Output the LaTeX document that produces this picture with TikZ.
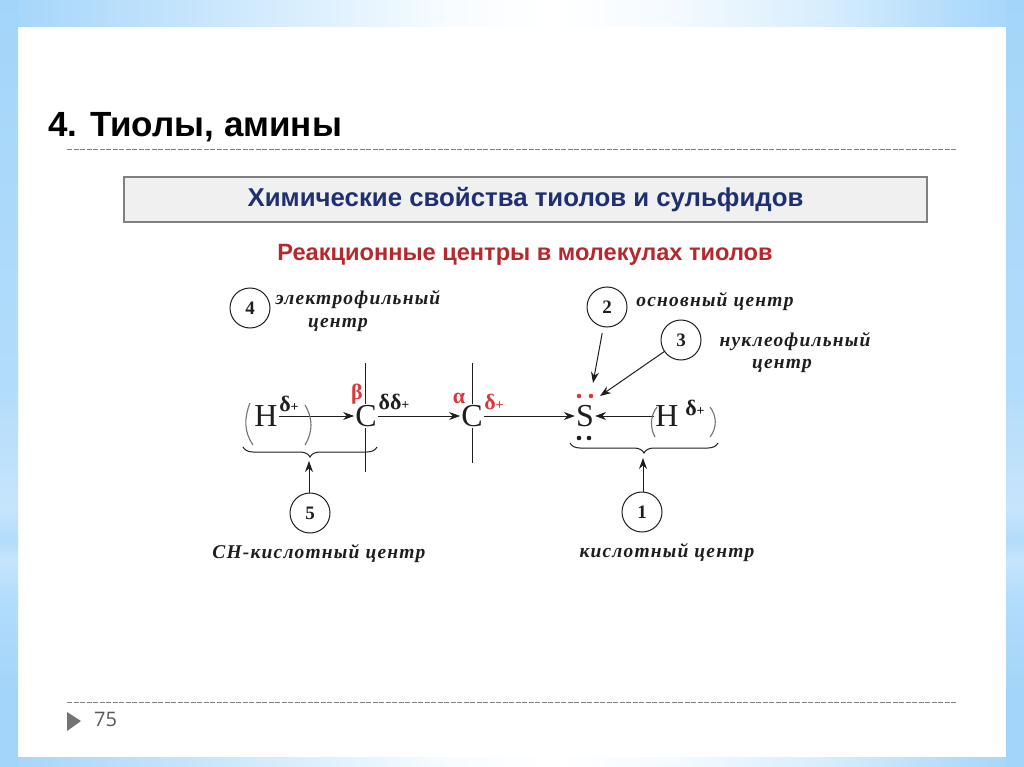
\documentclass[tikz,border=0pt]{standalone}
\usepackage{fontspec}
\setmainfont{Liberation Serif}
\newfontfamily\titlefont{Liberation Sans}
\newfontfamily\numfont{Open Sans}
\newfontfamily\capfont[LetterSpace=6]{Liberation Serif}
\usetikzlibrary{decorations.pathreplacing,arrows.meta}
\definecolor{frameblue}{HTML}{A3D5FA}
\definecolor{bandA}{HTML}{C8E6FC}
\definecolor{bandB}{HTML}{E3F3FE}
\definecolor{bandC}{HTML}{F8FCFF}
\definecolor{bandD}{HTML}{F4FAFF}
\definecolor{bandE}{HTML}{D8EEFD}
\definecolor{bandF}{HTML}{B0DBFB}
\definecolor{stripmid}{HTML}{C6E5FC}
\definecolor{stripalt}{HTML}{B2DCFB}
\definecolor{stripsoft}{HTML}{A9D8FA}
\definecolor{inkblack}{HTML}{1E1E1E}
\definecolor{boxnavy}{HTML}{1F3070}
\definecolor{headred}{HTML}{B5282E}
\definecolor{chemred}{HTML}{D8383C}
\pgfdeclareverticalshading{stripshade}{100bp}{
  color(0bp)=(frameblue); color(25bp)=(frameblue); color(30bp)=(frameblue);
  color(36bp)=(stripalt); color(38.5bp)=(stripmid); color(39.8bp)=(stripalt);
  color(41.8bp)=(stripmid); color(50bp)=(stripalt); color(65bp)=(stripsoft);
  color(75bp)=(frameblue); color(100bp)=(frameblue)}
\pgfdeclarehorizontalshading{bandshade}{100bp}{
  color(0bp)=(frameblue); color(25bp)=(frameblue); color(35bp)=(bandA);
  color(42bp)=(bandB); color(47bp)=(bandC); color(52bp)=(white);
  color(58bp)=(bandD); color(65bp)=(bandE); color(72bp)=(bandF);
  color(75bp)=(frameblue); color(100bp)=(frameblue)}
\tikzset{
  x=1pt,y=-1pt,
  atom/.style={font=\fontsize{32}{32}\selectfont,text=inkblack,inner sep=1pt},
  numcirc/.style={circle,draw=inkblack,line width=1pt,minimum size=40pt,inner sep=0pt,fill=white,font=\bfseries\fontsize{19}{19}\selectfont,text=inkblack},
  caption/.style={font=\capfont\bfseries\itshape\fontsize{19.5}{24}\selectfont,text=inkblack,align=center,inner sep=0pt},
  conn/.style={draw=inkblack,line width=1pt,-{Stealth[length=11pt,width=8pt]}},
  bond/.style={draw=inkblack,line width=1pt},
  paren/.style={draw=black!55,line width=1.1pt},
  chembrace/.style={draw=inkblack,line width=1pt,decorate,decoration={brace,mirror,amplitude=10pt}},
  charge/.style={font=\bfseries\fontsize{22}{22}\selectfont,text=inkblack,inner sep=0pt},
  redcharge/.style={charge,text=chemred},
  lonepair/.style={circle,fill=inkblack,minimum size=4.6pt,inner sep=0pt},
  redpair/.style={lonepair,fill=chemred},
  rulegrey/.style={draw=black!50,line width=1pt,dash pattern=on 5pt off 1.5pt}
}
\newcommand{\smallplus}{{\fontsize{14}{14}\selectfont +}}
\begin{document}
\begin{tikzpicture}
\useasboundingbox (0,0) rectangle (1024,767);
% frame
\fill[white] (0,0) rectangle (1024,767);
\shade[shading=bandshade] (0,0) rectangle (1024,27);
\shade[shading=bandshade] (0,757) rectangle (1024,767);
\shade[shading=stripshade] (0,0) rectangle (18,767);
\shade[shading=stripshade] (1006,0) rectangle (1024,767);
% heading
\node[anchor=base west,inner sep=0pt,font=\titlefont\bfseries\fontsize{35}{35}\selectfont,text=black] (title) at (48,137) {4. Тиолы, амины};
\coordinate (r1a) at (67,149.5); \coordinate (r1b) at (957,149.5);
\draw[rulegrey] (r1a) -- (r1b);
\coordinate (r2a) at (67,702); \coordinate (r2b) at (957,702);
\draw[rulegrey] (r2a) -- (r2b);
\fill[black!55] (67,712) -- (81,721) -- (67,731) -- cycle;
\node[anchor=base west,inner sep=0pt,font=\numfont\fontsize{20}{20}\selectfont,text=black!65] (page) at (94,726) {75};
% banner
\node[draw=black!50,line width=1.4pt,fill=black!6,minimum width=803pt,minimum height=45pt,inner sep=0pt,
  font=\titlefont\bfseries\fontsize{25.8}{25.8}\selectfont,text=boxnavy] (banner) at (525.5,199.5) {Химические свойства тиолов и сульфидов};
\node[inner sep=0pt,font=\titlefont\bfseries\fontsize{23.6}{23.6}\selectfont,text=headred] (subhead) at (525,255) {Реакционные центры в молекулах тиолов};
% atoms
\node[atom] (h1) at (266,416) {H};
\node[atom] (c1) at (366,416) {C};
\node[atom] (c2) at (472,416) {C};
\node[atom] (s)  at (585,416) {S};
\node[atom] (h2) at (667,416) {H};
% bonds
\coordinate (c1up) at (365,363); \coordinate (c1dn) at (365,472);
\coordinate (c2up) at (472,363); \coordinate (c2dn) at (472,463);
\draw[bond] (c1up) -- (c1.north -| c1up);
\draw[bond] (c1.south -| c1dn) -- (c1dn);
\draw[bond] (c2up) -- (c2.north);
\draw[bond] (c2.south) -- (c2dn);
\draw[conn] (h1) -- (c1);
\draw[conn] (c1) -- (c2);
\draw[conn] (c2) -- (s);
\draw[conn] (h2) -- (s);
% parentheses
\draw[paren] (250,403) .. controls (244,418) and (244,432) .. (253,445);
\draw[paren] (305,405) .. controls (313,418) and (313,432) .. (305,445);
\draw[paren] (657,407) .. controls (650,416) and (650,428) .. (655,437);
\draw[paren] (710,407) .. controls (717,416) and (717,428) .. (710,437);
% braces
\coordinate (b1a) at (243,447); \coordinate (b1b) at (377,447);
\coordinate (b2a) at (570,443); \coordinate (b2b) at (718,443);
\draw[chembrace] (b1a) -- (b1b);
\draw[chembrace] (b2a) -- (b2b);
% charges
\node[charge] (q1) at (289,404) {δ\smallplus};
\node[charge] (q2) at (394,402) {δδ\smallplus};
\node[redcharge] (beta) at (357,394) {β};
\node[redcharge] (alpha) at (459,398) {α};
\node[redcharge] (q3) at (494,402) {δ\smallplus};
\node[charge] (q4) at (695,408) {δ\smallplus};
% lone pairs
\node[redpair] (lp1) at (579,396) {};
\node[redpair] (lp2) at (591,396) {};
\node[lonepair] (lp3) at (579,438) {};
\node[lonepair] (lp4) at (589,438) {};
% numbered circles
\node[numcirc] (n4) at (250,308) {4};
\node[numcirc] (n2) at (607,307) {2};
\node[numcirc] (n3) at (681,340) {3};
\node[numcirc] (n5) at (310,513) {5};
\node[numcirc] (n1) at (642,512) {1};
% pointer arrows
\coordinate (t2) at (593,383);
\coordinate (t3) at (600,396);
\coordinate (t5) at (309,461);
\coordinate (t1) at (643,458);
\draw[conn,shorten <=6pt] (n2) -- (t2);
\draw[conn] (n3) -- (t3);
\draw[conn] (n5.north -| t5) -- (t5);
\draw[conn] (n1.north -| t1) -- (t1);
% captions
\node[caption] (cap4a) at (358,300) {электрофильный};
\node[caption] (cap4b) at (338,325) {центр};
\node[caption] (cap2) at (715,302) {основный центр};
\node[caption] (cap3a) at (795,342) {нуклеофильный};
\node[caption] (cap3b) at (782,366) {центр};
\node[caption] (cap5) at (319,554) {СН-кислотный центр};
\node[caption] (cap1) at (667,553) {кислотный центр};
\end{tikzpicture}
\end{document}
